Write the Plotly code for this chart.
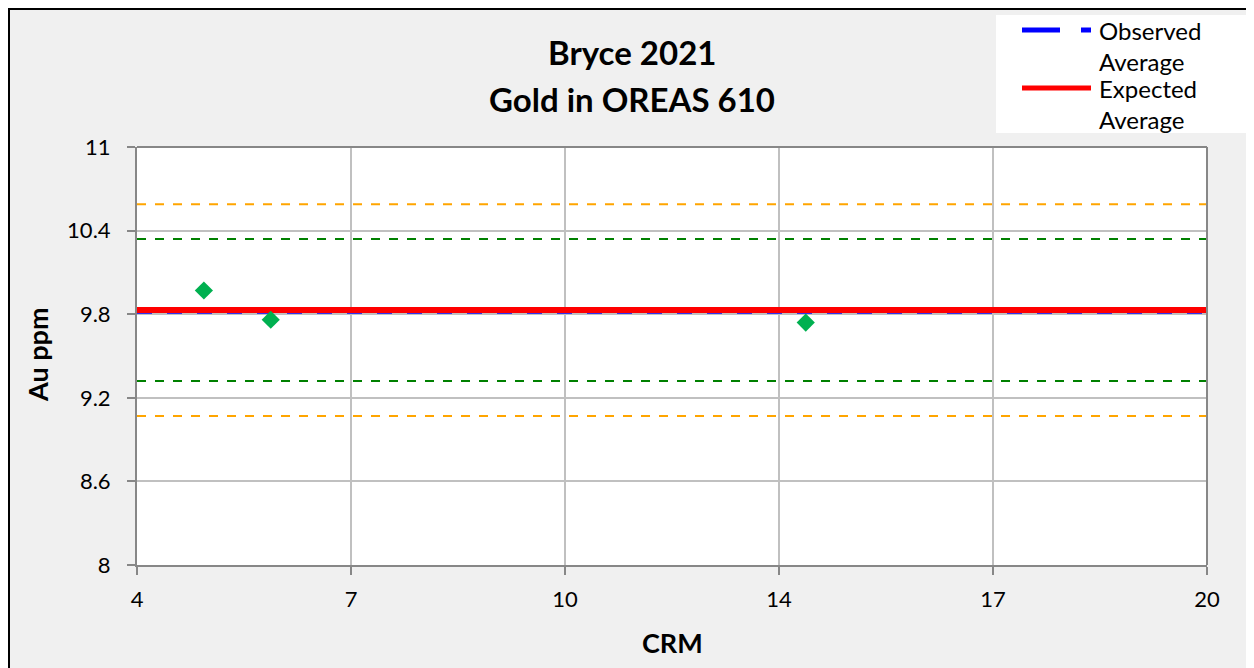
import plotly.graph_objects as go

# ---- data ----
crm_x = [5, 6, 14]
crm_au = [9.97, 9.76, 9.74]
line_x = [4, 20]
expected_avg = 9.83
observed_avg = 9.81
upper_2sd = 10.34
lower_2sd = 9.32
upper_3sd = 10.59
lower_3sd = 9.07
x_tickvals = [4, 7.2, 10.4, 13.6, 16.8, 20]
x_ticktext = ["4", "7", "10", "14", "17", "20"]
y_tickvals = [8, 8.6, 9.2, 9.8, 10.4, 11]
y_ticktext = ["8", "8.6", "9.2", "9.8", "10.4", "11"]
legend_names = ["Observed<br>Average", "Expected<br>Average"]

FONT = "Lato"

# page offset (body margin) = 8px; figure occupies 8..1254 x 8..668
W, H = 1246, 660
L, T, R, B = 129, 139, 47, 103
PW = W - L - R
PH = H - T - B


def px_x(x):  # page px -> paper x
    return (x - 8 - L) / PW


def px_y(y):  # page px -> paper y
    return 1 - (y - 8 - T) / PH


fig = go.Figure()

for yv in [upper_3sd, lower_3sd]:
    fig.add_trace(go.Scatter(x=line_x, y=[yv, yv], mode="lines", showlegend=False,
                             line=dict(color="#ffa500", width=2, dash="dash"), hoverinfo="skip"))
for yv in [upper_2sd, lower_2sd]:
    fig.add_trace(go.Scatter(x=line_x, y=[yv, yv], mode="lines", showlegend=False,
                             line=dict(color="#008000", width=2, dash="dash"), hoverinfo="skip"))

fig.add_trace(go.Scatter(x=line_x, y=[observed_avg, observed_avg], mode="lines",
                         name="Observed Average", showlegend=False,
                         line=dict(color="#0000ff", width=2, dash="longdash")))
fig.add_trace(go.Scatter(x=line_x, y=[expected_avg, expected_avg], mode="lines",
                         name="Expected Average", showlegend=False,
                         line=dict(color="#ff0000", width=6)))

fig.add_trace(go.Scatter(x=crm_x, y=crm_au, mode="markers", showlegend=False,
                         name="CRM",
                         marker=dict(symbol="diamond", size=14, color="#00b050")))

fig.update_layout(
    width=W, height=H,
    paper_bgcolor="#f0f0f0", plot_bgcolor="#ffffff",
    margin=dict(l=L, r=R, t=T, b=B),
    font=dict(family=FONT, color="#000000", size=20),
    showlegend=False,
)

fig.update_xaxes(range=[4, 20], tickvals=x_tickvals, ticktext=x_ticktext,
                 showgrid=True, gridcolor="#c0c0c0", gridwidth=1.5,
                 showline=True, linecolor="#878787", linewidth=2,
                 ticks="outside", ticklen=8, tickcolor="#878787", tickwidth=2,
                 ticklabelstandoff=6,
                 tickfont=dict(size=22, family=FONT), zeroline=False)
fig.update_yaxes(range=[8, 11], tickvals=y_tickvals, ticktext=y_ticktext,
                 showgrid=True, gridcolor="#c0c0c0", gridwidth=1.5,
                 showline=True, linecolor="#878787", linewidth=2,
                 ticks="outside", ticklen=8, tickcolor="#878787", tickwidth=2,
                 ticklabelstandoff=12,
                 tickfont=dict(size=22, family=FONT), zeroline=False)

# right/top plot edges
fig.add_shape(type="line", xref="paper", yref="paper", x0=1, x1=1, y0=0, y1=1,
              line=dict(color="#878787", width=2))
fig.add_shape(type="line", xref="paper", yref="paper", x0=0, x1=1, y0=1, y1=1,
              line=dict(color="#878787", width=2))

# legend (drawn manually to match the reference box)
fig.add_shape(type="rect", xref="paper", yref="paper",
              x0=px_x(996), x1=px_x(1249), y0=px_y(133), y1=px_y(15),
              fillcolor="#ffffff", line=dict(width=0))
fig.add_shape(type="line", xref="paper", yref="paper",
              x0=px_x(1022), x1=px_x(1060), y0=px_y(30), y1=px_y(30),
              line=dict(color="#0000ff", width=5))
fig.add_shape(type="line", xref="paper", yref="paper",
              x0=px_x(1081), x1=px_x(1091), y0=px_y(30), y1=px_y(30),
              line=dict(color="#0000ff", width=5))
fig.add_shape(type="line", xref="paper", yref="paper",
              x0=px_x(1022), x1=px_x(1091), y0=px_y(88), y1=px_y(88),
              line=dict(color="#ff0000", width=5))
for name, yc in zip(legend_names, [46, 104]):
    fig.add_annotation(text=name, xref="paper", yref="paper",
                       x=px_x(1097), y=px_y(yc), align="left",
                       showarrow=False, font=dict(size=24, family=FONT),
                       xanchor="left", yanchor="middle")

# outer chart frame
fig.add_shape(type="rect", xref="paper", yref="paper",
              x0=px_x(9), x1=px_x(1300), y0=px_y(700), y1=px_y(9),
              line=dict(color="#000000", width=2))

# titles
fig.add_annotation(text="<b>Bryce 2021</b>", xref="paper", yref="paper",
                   x=px_x(632), y=px_y(52),
                   showarrow=False, font=dict(size=33, family=FONT),
                   xanchor="center", yanchor="middle")
fig.add_annotation(text="<b>Gold in OREAS 610</b>", xref="paper", yref="paper",
                   x=px_x(632), y=px_y(99),
                   showarrow=False, font=dict(size=33, family=FONT),
                   xanchor="center", yanchor="middle")
fig.add_annotation(text="<b>CRM</b>", xref="paper", yref="paper",
                   x=0.5, y=px_y(642),
                   showarrow=False, font=dict(size=27, family=FONT),
                   xanchor="center", yanchor="middle")
fig.add_annotation(text="<b>Au ppm</b>", xref="paper", yref="paper",
                   x=px_x(37), y=px_y(355), textangle=-90,
                   showarrow=False, font=dict(size=27, family=FONT),
                   xanchor="center", yanchor="middle")

fig.write_html("out.html")
